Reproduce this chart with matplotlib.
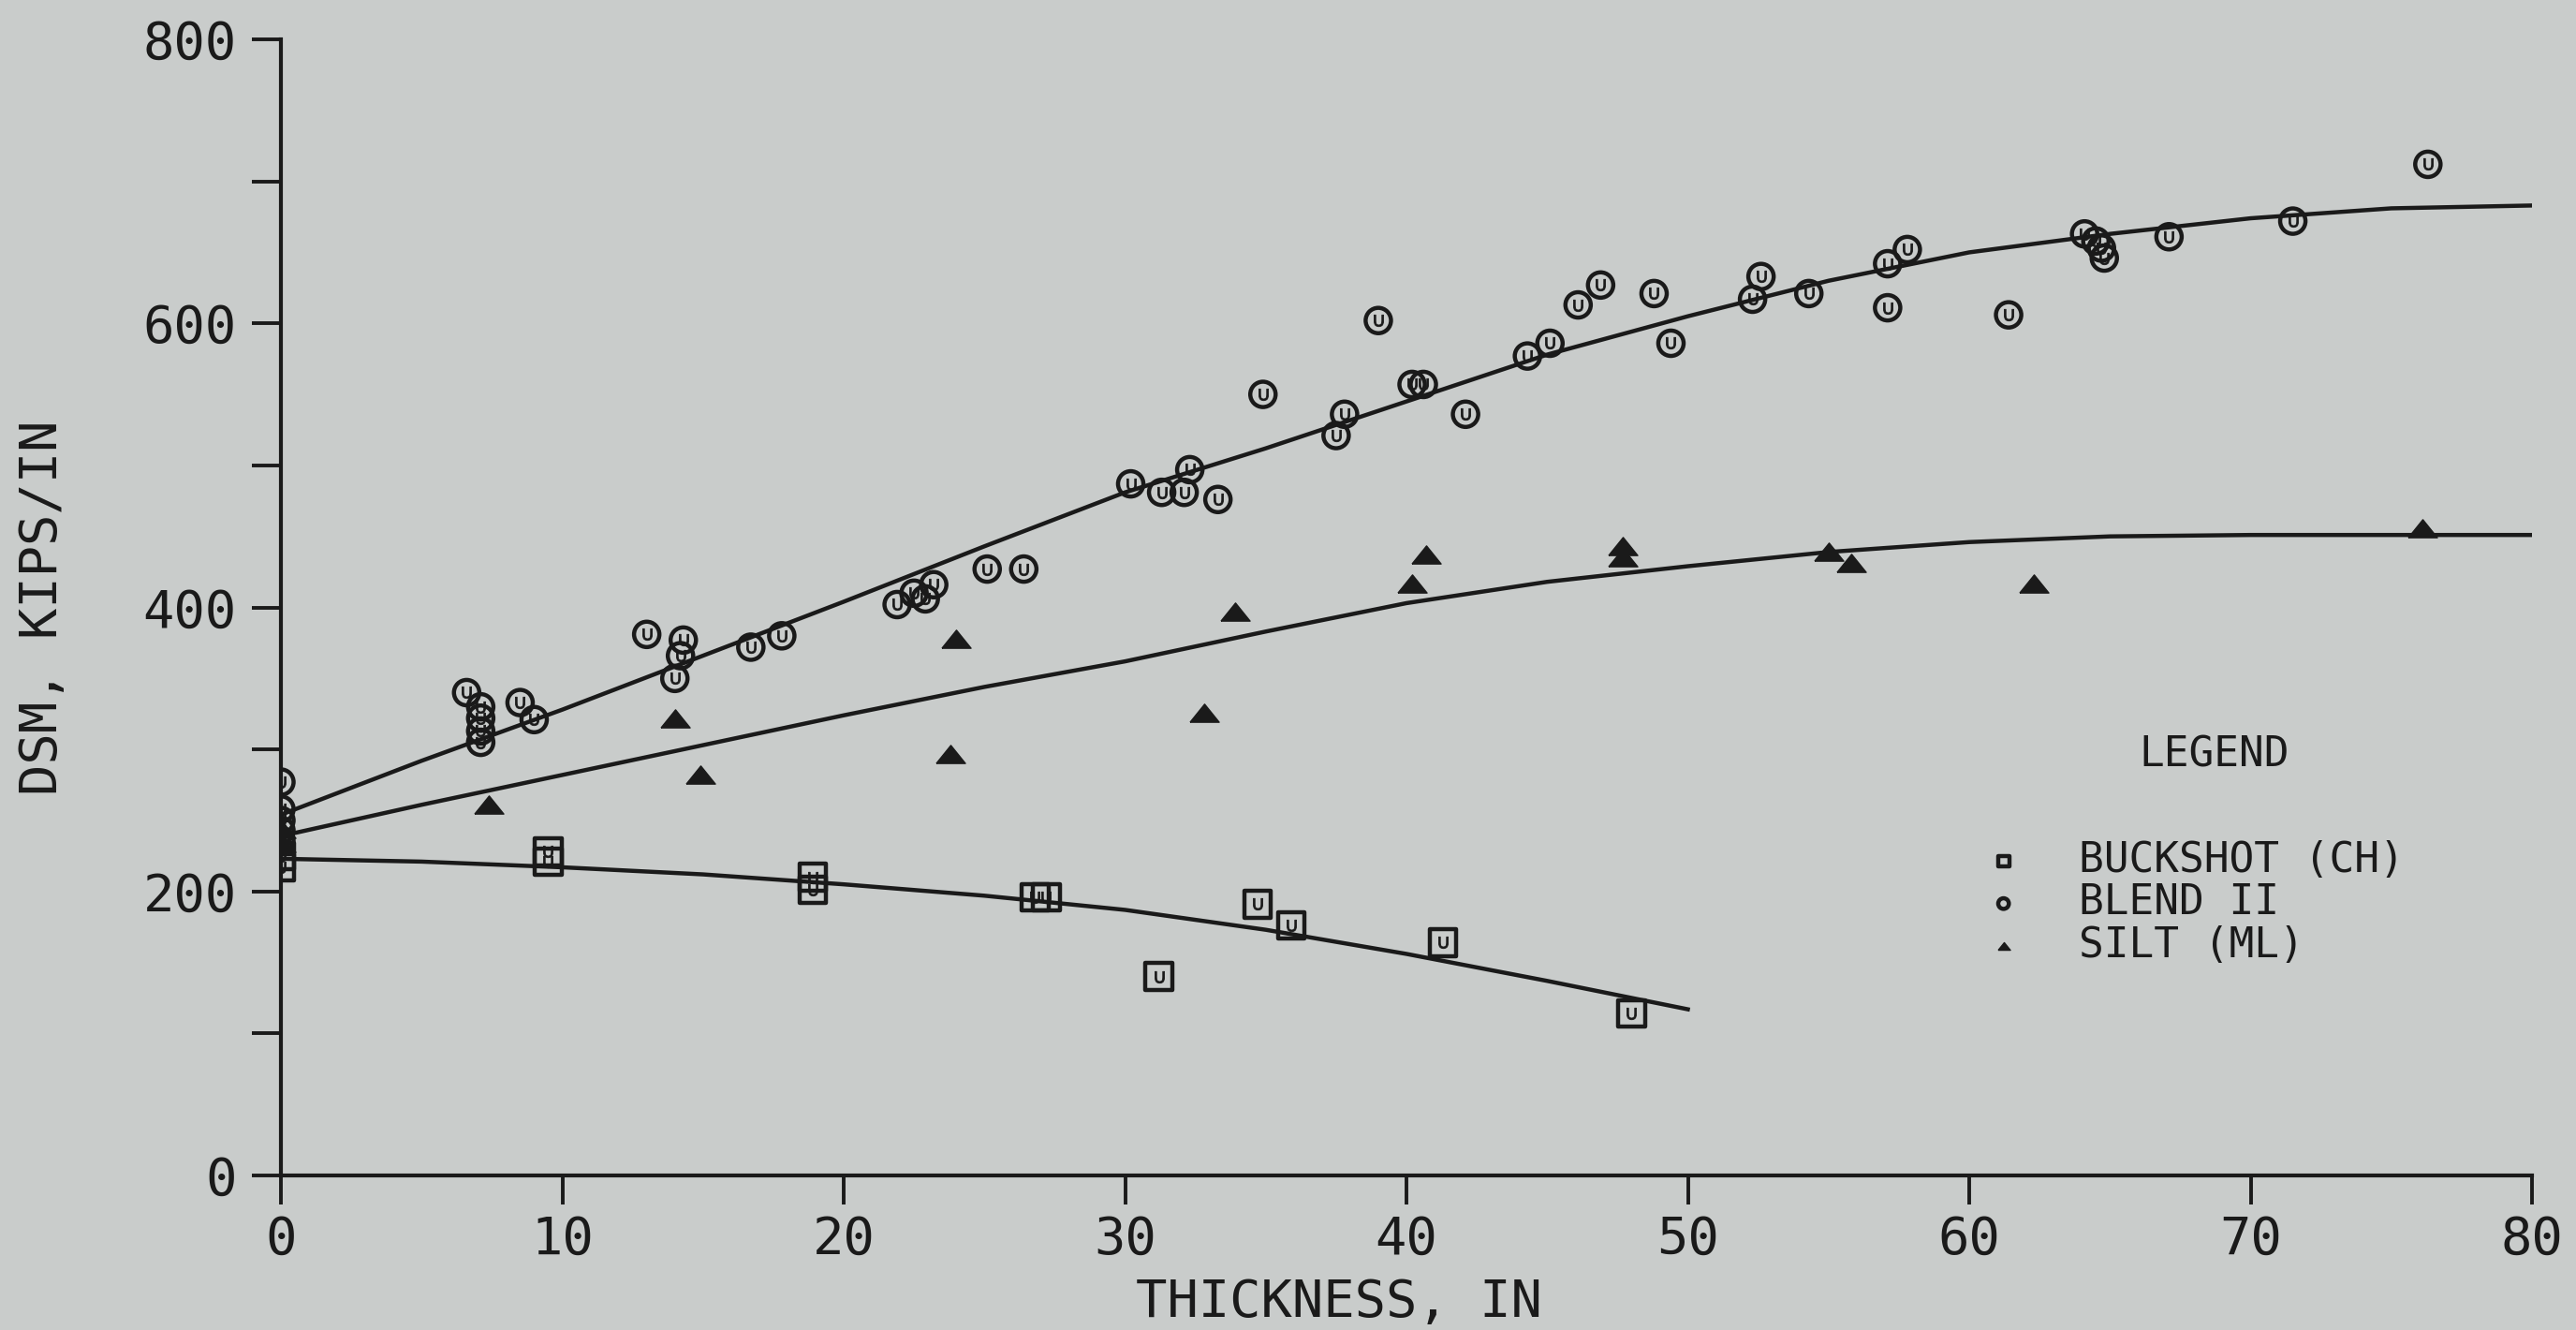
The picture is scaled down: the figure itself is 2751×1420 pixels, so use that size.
import matplotlib.pyplot as plt
from matplotlib.ticker import MultipleLocator

# DSM vs thickness, plotter-style chart

# valeurs
buck_x = [0, 0, 9.5, 9.5, 18.9, 18.9, 26.8, 27.2, 31.2, 34.7, 35.9, 41.3, 48.0]
buck_y = [225, 217, 228, 221, 210, 201, 196, 196, 140, 191, 176, 164, 114]

blend_x = [0, 0, 0, 0, 0, 6.6, 7.1, 7.1, 7.1, 7.1, 8.5, 9.0, 13.0, 14.3, 14.2, 14.0,
           16.7, 17.8, 21.9, 22.5, 22.9, 23.2, 25.1, 26.4, 30.2, 31.3, 32.1, 32.3, 33.3,
           34.9, 37.5, 37.8, 39.0, 40.2, 40.6, 42.1, 44.3, 45.1, 46.1, 46.9, 48.8, 49.4,
           52.3, 52.6, 54.3, 57.1, 57.1, 57.8, 61.4, 64.1, 64.5, 64.7, 64.8, 67.1, 71.5, 76.3]
blend_y = [277, 258, 250, 243, 236, 340, 330, 322, 313, 305, 333, 321, 381, 377, 366, 350,
           372, 380, 402, 410, 406, 416, 427, 427, 487, 481, 481, 497, 476,
           550, 521, 536, 602, 557, 557, 536, 577, 586, 613, 627, 621, 586,
           617, 633, 621, 611, 642, 652, 606, 663, 658, 653, 646, 661, 672, 712]

silt_x = [0, 0, 7.4, 14.0, 14.9, 23.8, 24.0, 32.8, 33.9, 40.2, 40.7, 47.7, 47.7, 55.0, 55.8, 62.3, 76.1]
silt_y = [244, 234, 261, 322, 282, 297, 378, 326, 397, 417, 437, 443, 435, 439, 431, 417, 456]

# courbes ajustées
fit_x = [0, 5, 10, 15, 20, 25, 30, 35, 40, 45, 50, 55, 60, 65, 70, 75, 80]
blend_fit = [254, 292, 328, 366, 404, 443, 481, 512, 545, 578, 605, 630, 650, 663, 674, 681, 683]
silt_fit = [239, 261, 282, 303, 324, 344, 362, 383, 403, 418, 429, 439, 446, 450, 451, 451, 451]
buck_fit_x = [0, 5, 10, 15, 20, 25, 30, 35, 40, 45, 50]
buck_fit = [223, 221, 217, 212, 205, 197, 187, 173, 156, 137, 117]

labels = ["BUCKSHOT (CH)", "BLEND II", "SILT (ML)"]

BG = "#c9cccb"
INK = "#1a1a1a"
FONT = "DejaVu Sans Mono"

plt.rcParams["font.family"] = FONT

fig = plt.figure(figsize=(27.51, 14.20), dpi=100)
fig.patch.set_facecolor(BG)
ax = fig.add_axes([300 / 2751, 165 / 1420, 2404 / 2751, 1213 / 1420])
ax.set_facecolor(BG)

# courbes
for xs, ys in [(fit_x, blend_fit), (fit_x, silt_fit), (buck_fit_x, buck_fit)]:
    ax.plot(xs, ys, color=INK, linewidth=3.2, zorder=2)

# triangle aplati comme sur le traceur
tri = [(-1, -0.62), (1, -0.62), (0, 0.62), (-1, -0.62)]

h_buck = ax.scatter(buck_x, buck_y, marker="s", s=420, facecolors="none",
                    edgecolors=INK, linewidths=3.2, zorder=3, label=labels[0])
h_blend = ax.scatter(blend_x, blend_y, marker="o", s=380, facecolors="none",
                     edgecolors=INK, linewidths=3.2, zorder=3, label=labels[1])
h_silt = ax.scatter(silt_x, silt_y, marker=tri, s=500, facecolors=INK,
                    edgecolors=INK, linewidths=1.0, zorder=3, label=labels[2])

# petit signe interieur des symboles
ax.scatter(buck_x, buck_y, marker="$\\cup$", s=80, color=INK, linewidths=0.6, zorder=4)
ax.scatter(blend_x, blend_y, marker="$\\cup$", s=80, color=INK, linewidths=0.6, zorder=4)

# axes
ax.set_xlim(0, 80)
ax.set_ylim(0, 800)
ax.xaxis.set_major_locator(MultipleLocator(10))
ax.yaxis.set_major_locator(MultipleLocator(200))
ax.yaxis.set_minor_locator(MultipleLocator(100))

for side in ["top", "right"]:
    ax.spines[side].set_visible(False)
for side in ["left", "bottom"]:
    ax.spines[side].set_linewidth(3.0)
    ax.spines[side].set_color(INK)

ax.tick_params(axis="both", which="both", direction="out", length=22, width=2.8,
               color=INK, labelcolor=INK, labelsize=40)
ax.tick_params(axis="x", pad=8)
ax.tick_params(axis="y", pad=12)

ax.set_xlabel("THICKNESS, IN", fontsize=40, color=INK, va="center")
ax.xaxis.set_label_coords(0.470, -0.112)
ax.set_ylabel("DSM, KIPS/IN", fontsize=40, color=INK, va="center")
ax.yaxis.set_label_coords(-0.1057, 0.5)

# légende
ax.text(0.859, 0.370, "LEGEND", transform=ax.transAxes, fontsize=32,
        color=INK, ha="center", va="center")
leg = ax.legend(handles=[h_buck, h_blend, h_silt], loc="upper left",
                bbox_to_anchor=(0.756, 0.295), frameon=False, fontsize=32,
                markerscale=0.42, handlelength=1.0, handletextpad=1.3,
                labelspacing=0.05, borderpad=0, borderaxespad=0)
for t in leg.get_texts():
    t.set_color(INK)

fig.savefig("out.png", dpi=100, facecolor=BG)
